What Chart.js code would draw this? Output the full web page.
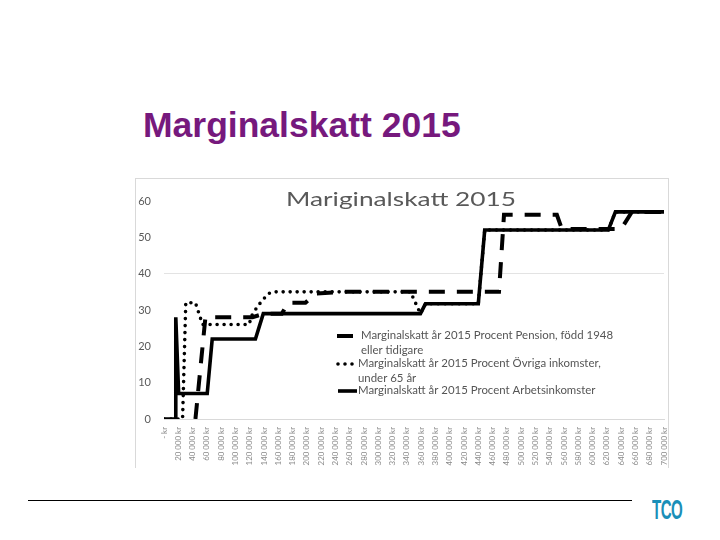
<!DOCTYPE html>
<html>
<head>
<meta charset="utf-8">
<script src="https://cdn.jsdelivr.net/npm/chart.js@4.4.1/dist/chart.umd.min.js"></script>
<style>
  body { margin: 0; background: #fff; }
  #slide { position: relative; width: 720px; height: 540px; overflow: hidden; }
  #title { position: absolute; left: 143px; top: 107px; font: bold 35.5px "Liberation Sans", Arial, sans-serif; line-height: 36px; color: #76197d; }
  #box { position: absolute; left: 135px; top: 178px; width: 532px; height: 289px;
         border-left: 1px solid #d9d9d9; border-right: 1px solid #d9d9d9; border-top: 1px solid #d9d9d9; }
  #rule { position: absolute; left: 28px; top: 500px; width: 604px; height: 1px; background: #000; }
  #logo { position: absolute; left: 652px; top: 495px; font: bold 27px "Liberation Sans", sans-serif;
          color: #1a8fb8; transform: scaleX(0.56); transform-origin: left top; letter-spacing: -1px; }
</style>
</head>
<body>
<div id="slide">
  <div id="title">Marginalskatt 2015</div>
  <div id="box"><canvas id="chart"></canvas></div>
  <div id="rule"></div>
  <div id="logo">TCO</div>
</div>
<script>
// tick labels, x axis (kr)
const xTickValues = [0, 20000, 40000, 60000, 80000, 100000, 120000, 140000, 160000, 180000,
  200000, 220000, 240000, 260000, 280000, 300000, 320000, 340000, 360000, 380000,
  400000, 420000, 440000, 460000, 480000, 500000, 520000, 540000, 560000, 580000,
  600000, 620000, 640000, 660000, 680000, 700000];
const xTickLabels = ['- kr', '20 000 kr', '40 000 kr', '60 000 kr', '80 000 kr', '100 000 kr',
  '120 000 kr', '140 000 kr', '160 000 kr', '180 000 kr', '200 000 kr', '220 000 kr',
  '240 000 kr', '260 000 kr', '280 000 kr', '300 000 kr', '320 000 kr', '340 000 kr',
  '360 000 kr', '380 000 kr', '400 000 kr', '420 000 kr', '440 000 kr', '460 000 kr',
  '480 000 kr', '500 000 kr', '520 000 kr', '540 000 kr', '560 000 kr', '580 000 kr',
  '600 000 kr', '620 000 kr', '640 000 kr', '660 000 kr', '680 000 kr', '700 000 kr'];

// Pension, född 1948 eller tidigare
const pensionInkomst = [44000, 58000, 124000, 140000, 165000, 174000, 198000, 212000, 250000,
  469000, 476000, 550000, 557000, 640000, 655000, 700000];
const pensionSkatt = [0, 28, 28, 29, 29, 32, 32, 34.5, 35, 35, 56.2, 56.2, 52.3, 52.3, 57, 57];

// Övriga inkomster, under 65 år
const ovrigaInkomst = [0, 26000, 30500, 44000, 54000, 119000, 124000, 135000, 146000, 153000,
  345000, 359000, 366000, 440000, 449000, 622000, 632000, 700000];
const ovrigaSkatt = [0, 0, 32, 32, 26, 26, 29, 32, 34.5, 35, 35, 29, 31.7, 31.7, 52, 52, 57, 57];

// Arbetsinkomster
const arbetsInkomst = [0, 15500, 16500, 20500, 60500, 67500, 128000, 139000, 359000, 366000,
  440000, 449000, 622000, 632000, 700000];
const arbetsSkatt = [0, 0, 28, 7, 7, 22, 22, 29, 29, 31.7, 31.7, 52, 52, 57, 57];

const seriesNames = [
  ['Marginalskatt år 2015 Procent Pension, född 1948', 'eller tidigare'],
  ['Marginalskatt år 2015 Procent Övriga inkomster,', 'under 65 år'],
  ['Marginalskatt år 2015 Procent Arbetsinkomster']
];

function points(xs, ys) {
  return xs.map((x, i) => ({ x: x, y: ys[i] }));
}

// the embedded picture is a bit stretched sideways, so text is widened too
function wideText(ctx, text, x, y, sx) {
  ctx.save();
  ctx.translate(x, y);
  ctx.scale(sx, 1);
  ctx.fillText(text, 0, 0);
  ctx.restore();
}

const innerTitle = {
  id: 'innerTitle',
  afterDraw(chart) {
    const ctx = chart.ctx;
    const t = 'Mariginalskatt 2015';
    ctx.save();
    ctx.font = '20px Lato, "Open Sans", sans-serif';
    ctx.fillStyle = '#595959';
    ctx.textBaseline = 'middle';
    const sx = 230 / ctx.measureText(t).width;
    wideText(ctx, t, 150, 21, sx);
    ctx.restore();
  }
};

// legend drawn inside the plot, like the original
const innerLegend = {
  id: 'innerLegend',
  afterDraw(chart) {
    const ctx = chart.ctx;
    const rows = [157, 185, 212];
    ctx.save();
    ctx.font = '10.5px Lato, "Open Sans", sans-serif';
    ctx.textBaseline = 'middle';
    const sx = 252 / ctx.measureText(seriesNames[0][0]).width;
    chart.data.datasets.forEach((ds, i) => {
      const y = rows[i];
      ctx.beginPath();
      ctx.strokeStyle = ds.borderColor;
      ctx.lineWidth = ds.borderWidth;
      ctx.lineCap = ds.borderCapStyle || 'butt';
      ctx.setLineDash(ds.borderDash || []);
      ctx.moveTo(i === 0 ? 201 : 202, y);
      ctx.lineTo(i === 0 ? 219 : 221, y);
      ctx.stroke();
      ctx.setLineDash([]);
      ctx.fillStyle = '#555';
      seriesNames[i].forEach((t, j) => wideText(ctx, t, i === 0 ? 225 : 222, y + j * 14.5, sx));
    });
    ctx.restore();
  }
};

new Chart(document.getElementById('chart'), {
  type: 'line',
  data: {
    datasets: [
      {
        label: seriesNames[0].join(' '),
        data: points(pensionInkomst, pensionSkatt),
        borderColor: '#000',
        borderWidth: 4,
        borderDash: [16, 12],
        order: 3
      },
      {
        label: seriesNames[1].join(' '),
        data: points(ovrigaInkomst, ovrigaSkatt),
        borderColor: '#000',
        borderWidth: 3.6,
        borderDash: [0, 7],
        borderCapStyle: 'round',
        order: 2
      },
      {
        label: seriesNames[2].join(' '),
        data: points(arbetsInkomst, arbetsSkatt),
        borderColor: '#000',
        borderWidth: 3.6,
        order: 1
      }
    ]
  },
  options: {
    responsive: true,
    maintainAspectRatio: false,
    animation: false,
    layout: { padding: { top: 22, right: 4, left: 0, bottom: 0 } },
    elements: { point: { radius: 0 }, line: { tension: 0 } },
    plugins: { legend: { display: false }, tooltip: { enabled: false } },
    scales: {
      x: {
        type: 'linear',
        min: 0,
        max: 700000,
        afterBuildTicks: s => { s.ticks = xTickValues.map(v => ({ value: v })); },
        afterFit: s => { s.height = 49; s.paddingRight = 0; s.paddingLeft = 0; },
        grid: { display: false },
        border: { display: true, color: '#d9d9d9' },
        ticks: {
          autoSkip: false,
          minRotation: 90,
          maxRotation: 90,
          padding: 0,
          color: '#8a8a8a',
          font: { family: 'Lato, "Open Sans", sans-serif', size: 7.9 },
          callback: (v) => xTickLabels[xTickValues.indexOf(v)]
        }
      },
      y: {
        min: 0,
        max: 60,
        afterFit: s => { s.width = 28; },
        border: { display: false },
        grid: {
          drawTicks: false,
          color: c => (c.tick && c.tick.value === 40) ? '#e3e3e3' : 'rgba(0,0,0,0)'
        },
        ticks: {
          stepSize: 10,
          padding: 13,
          color: '#595959',
          font: { family: 'Lato, "Open Sans", sans-serif', size: 11 }
        }
      }
    }
  },
  plugins: [innerTitle, innerLegend]
});
</script>
</body>
</html>
